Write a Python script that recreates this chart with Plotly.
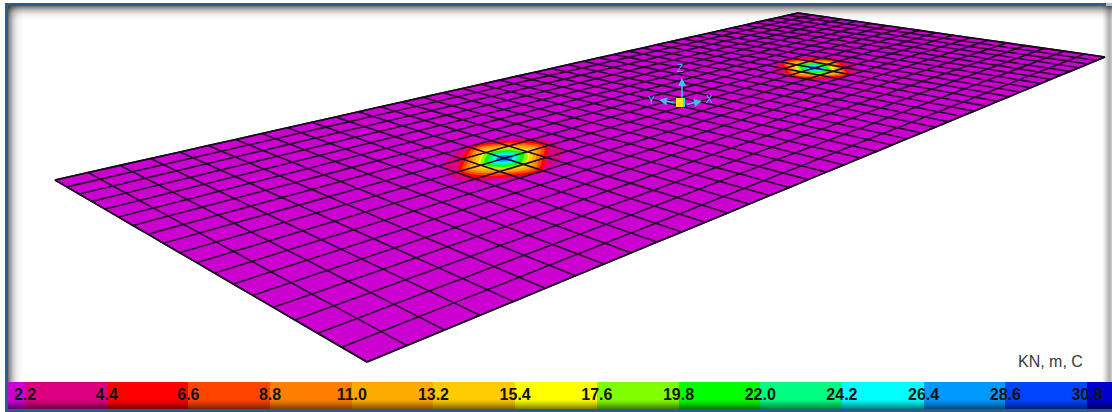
import plotly.graph_objects as go

W, H = 1112, 412

# ---- legend values and colours -------------------------------------------
legend_values = [2.2, 4.4, 6.6, 8.8, 11.0, 13.2, 15.4, 17.6, 19.8, 22.0, 24.2, 26.4, 28.6, 30.8]
tick_labels = ["2.2", "4.4", "6.6", "8.8", "11.0", "13.2", "15.4", "17.6", "19.8", "22.0", "24.2", "26.4", "28.6", "30.8"]
band_colors = ["#cc00d0", "#dc0080", "#ff0000", "#ff4400", "#ff8000", "#ffaa00", "#ffcc00",
               "#ffff00", "#80ff00", "#00ff00", "#00ff80", "#00ffff", "#0099ff", "#0044ff", "#0000cc"]

# ---- plate mesh: 40 x 18 cells ---------------------------------------------
n_long = 40
n_short = 18
base_stress = 0.5
hot_nodes = [(11, 9), (29, 9)]
# stress around a column, node values, rows b-2..b+2, columns a-2..a+2
hot_patch = [
    [0.5, 0.5, 2.6, 1.5, 0.5],
    [1.5, 4.5, 17.5, 11.0, 3.0],
    [3.0, 17.5, 31.0, 17.5, 3.0],
    [3.0, 11.0, 17.5, 4.5, 1.5],
    [0.5, 1.5, 2.6, 0.5, 0.5],
]

# view of the plate (camera), the four screen corners of the unit plate
view_left, view_far, view_right, view_near = (55, 180), (798, 13), (1105, 57), (367, 362)


def camera():
    (x0, y0), (x1, y1), (x2, y2), (x3, y3) = view_left, view_far, view_right, view_near
    dx1, dx2, sx = x1 - x2, x3 - x2, x0 - x1 + x2 - x3
    dy1, dy2, sy = y1 - y2, y3 - y2, y0 - y1 + y2 - y3
    den = dx1 * dy2 - dx2 * dy1
    g = (sx * dy2 - dx2 * sy) / den
    h = (dx1 * sy - sx * dy1) / den
    return (x1 - x0 + g * x1, x3 - x0 + h * x3, x0, y1 - y0 + g * y1, y3 - y0 + h * y3, y0, g, h)


A, B, C, D, E, F, G, K = camera()
a_st = list(range(n_long + 1))
b_st = list(range(n_short + 1))
mesh_x, mesh_y, stress = [], [], []
for j in b_st:
    rx, ry, rz = [], [], []
    for i in a_st:
        u, v = i / n_long, j / n_short
        w = G * u + K * v + 1
        rx.append((A * u + B * v + C) / w)
        ry.append((D * u + E * v + F) / w)
        rz.append(base_stress)
    mesh_x.append(rx)
    mesh_y.append(ry)
    stress.append(rz)
for ca, cb in hot_nodes:
    for dj, row in enumerate(hot_patch):
        for di, val in enumerate(row):
            stress[cb + dj - 2][ca + di - 2] = val

# discrete colour scale
zmin, zmax = 0.0, 33.0
edges = [zmin] + legend_values + [zmax]
colorscale = []
for k, col in enumerate(band_colors):
    colorscale.append([(edges[k] - zmin) / (zmax - zmin), col])
    colorscale.append([(edges[k + 1] - zmin) / (zmax - zmin), col])

fig = go.Figure()
axis_style = dict(
    tickmode="linear", dtick=1, tick0=0, smoothing=0, showticklabels="none", showgrid=True,
    gridcolor="#26082c", gridwidth=1.6, minorgridcount=0, startline=True, endline=True,
    startlinecolor="#1a0a20", endlinecolor="#1a0a20", startlinewidth=1.6, endlinewidth=1.6,
    title=dict(text=""),
)
fig.add_trace(go.Carpet(carpet="plate", a=a_st, b=b_st, x=mesh_x, y=mesh_y,
                        aaxis=axis_style, baxis=axis_style, xaxis="x", yaxis="y"))
fig.add_trace(go.Contourcarpet(
    carpet="plate", a=a_st, b=b_st, z=stress, autocontour=False,
    contours=dict(start=legend_values[0], end=legend_values[-1], size=2.2, coloring="fill", showlines=False),
    line=dict(width=0), colorscale=colorscale, zmin=zmin, zmax=zmax, showscale=False,
    xaxis="x", yaxis="y"))

# legend strip
px_first, px_last = 25.0, 1087.0
per_px = (legend_values[-1] - legend_values[0]) / (px_last - px_first)
x2_lo = legend_values[0] - px_first * per_px
x2_hi = legend_values[-1] + (W - px_last) * per_px
strip_edges = [legend_values[0] - (px_first - 8) * per_px] + legend_values + [x2_hi]
fig.add_trace(go.Bar(
    x=[(strip_edges[i] + strip_edges[i + 1]) / 2 for i in range(len(band_colors))],
    y=[1] * len(band_colors),
    width=[strip_edges[i + 1] - strip_edges[i] for i in range(len(band_colors))],
    marker=dict(color=band_colors, line=dict(width=0)), xaxis="x2", yaxis="y2", hoverinfo="skip"))
fig.add_trace(go.Scatter(
    x=legend_values, y=[0.47] * len(legend_values), text=tick_labels, mode="text",
    textfont=dict(family="Liberation Sans", size=16, color="#141414", weight="bold"),
    xaxis="x2", yaxis="y2", hoverinfo="skip"))

shapes = []


def box(x0, y0, x1, y1, color, opacity=1.0):
    shapes.append(dict(type="rect", xref="x", yref="y", x0=x0, y0=y0, x1=x1, y1=y1,
                       fillcolor=color, opacity=opacity, line=dict(width=0), layer="above"))


# inner shadow of the picture frame
shadow_steps = [0.52, 0.44, 0.37, 0.30, 0.24, 0.19, 0.15, 0.11, 0.08, 0.06, 0.04, 0.03, 0.02, 0.01]
for n, op in enumerate(shadow_steps):
    box(8, 6 + n, W, 7 + n, "#000000", op)
    box(8 + n, 6, 9 + n, 382, "#000000", op)
for n, op in enumerate([0.02, 0.05, 0.09, 0.13, 0.18, 0.24, 0.28, 0.30, 0.26, 0.22]):
    box(1102 + n, 6, 1103 + n, 382, "#000000", op)
# darkening at the foot of the strip
for n, op in enumerate([0.04, 0.08, 0.13, 0.18, 0.24, 0.30, 0.36, 0.42, 0.48]):
    box(8, 400 + n, W, 401 + n, "#000000", op)
# blue frame
box(5, 3, 1106, 6, "#2f5a8c")
box(5, 3, 8, 412, "#2f5a8c")
box(5, 409, W, 412, "#2f5a8c")
box(1106, 3, W, 6, "#b0bccb")

annotations = [
    dict(x=1050, y=361, xref="x", yref="y", text="KN, m, C", showarrow=False,
         font=dict(family="Liberation Sans", size=16, color="#3a3a3a")),
]
axis_color = "#35c6e6"
for tx, ty, ax_, ay_ in [(682, 78, 682, 99), (659, 100, 676, 103), (702, 101, 685, 105)]:
    annotations.append(dict(x=tx, y=ty, ax=ax_, ay=ay_, xref="x", yref="y", axref="x", ayref="y", text="",
                            showarrow=True, arrowhead=2, arrowsize=1, arrowwidth=1.6, arrowcolor=axis_color))
for tx, ty, s in [(680, 68, "Z"), (651, 100, "Y"), (709, 99, "X")]:
    annotations.append(dict(x=tx, y=ty, xref="x", yref="y", text=s, showarrow=False,
                            font=dict(family="Liberation Sans", size=10, color=axis_color)))
box(676, 98, 685, 107, "#ffe81a")
box(683, 98, 685, 107, "#35e6e6")

fig.update_layout(
    width=W, height=H, margin=dict(l=0, r=0, t=0, b=0), paper_bgcolor="#ffffff", plot_bgcolor="rgba(0,0,0,0)",
    showlegend=False, bargap=0, shapes=shapes, annotations=annotations,
    xaxis=dict(range=[0, W], visible=False, domain=[0, 1]),
    yaxis=dict(range=[H, 0], visible=False, domain=[0, 1]),
    xaxis2=dict(range=[x2_lo, x2_hi], visible=False, domain=[0, 1], anchor="y2"),
    yaxis2=dict(range=[0, 1], visible=False, domain=[(H - 409) / H, (H - 382) / H], anchor="x2"),
)
fig.write_html("out.html", config=dict(displayModeBar=False), post_script="document.body.style.margin='0';")
